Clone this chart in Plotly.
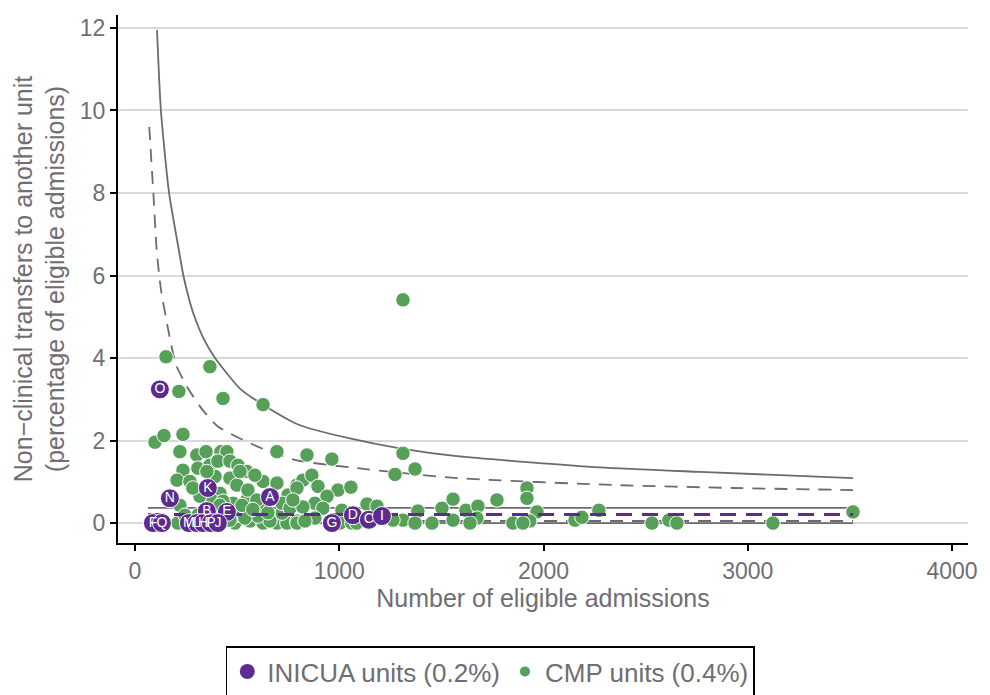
import plotly.graph_objects as go

# INICUA units (labelled)
inicua_labels = ["O", "N", "K", "A", "B", "E", "F", "Q", "M", "L", "H", "P", "J", "G", "D", "C", "I"]
inicua_x = [122, 171, 357, 661, 352, 450, 88, 132, 264, 303, 333, 372, 406, 964, 1067, 1145, 1209]
inicua_y = [3.24, 0.60, 0.85, 0.63, 0.29, 0.27, 0.0, 0.0, 0.0, 0.0, 0.0, 0.0, 0.0, 0.0, 0.19, 0.08, 0.17]

# CMP units
cmp_x = [1312, 152, 367, 215, 431, 627, 98, 142, 235, 220, 303, 348, 421, 450, 695, 842, 964, 1312, 1273, 1371,
         235, 308, 367, 406, 465, 504, 548, 465, 392, 206, 627, 587, 318, 416, 548, 480, 220, 749, 793,
         489, 563, 627, 695, 744, 793, 514, 720, 622, 210, 382, 431, 499, 553, 514, 661, 602, 538, 465, 416, 720, 759,
         822, 866, 896, 994, 1057, 793, 940, 881, 822, 773, 920, 1013, 1136, 1185, 1385, 1312, 1371, 1454, 1503, 1557,
         1557, 793, 881, 1003, 1062, 1263, 832,
         1620, 1679, 1674, 1640, 1772, 1850, 1919, 1919, 1968, 1933, 1899, 2154, 2188, 2271,
         2531, 2614, 2653, 3123, 3515,
         269, 352, 245, 524, 597, 695, 1203, 1085, 651, 577, 310, 283, 455]
cmp_y = [5.41, 4.03, 3.79, 3.19, 3.02, 2.87, 1.96, 2.12, 2.15, 1.73, 1.65, 1.73, 1.73, 1.73, 1.73, 1.65, 1.55, 1.69, 1.18, 1.31,
         1.28, 1.33, 1.40, 1.50, 1.50, 1.40, 1.25, 1.09, 1.13, 1.04, 1.01, 1.16, 0.65, 0.72, 0.56, 0.48, 0.43, 0.68, 0.92,
         0.0, 0.05, 0.0, 0.0, 0.0, 0.05, 0.19, 0.24, 0.41, 0.0, 0.53, 0.53, 0.92, 0.80, 1.25, 0.05, 0.17, 0.12, 0.07, 0.43, 0.48, 0.36,
         1.04, 1.16, 0.89, 0.80, 0.87, 0.85, 0.65, 0.48, 0.39, 0.56, 0.36, 0.31, 0.46, 0.41, 0.29, 0.07, 0.0, 0.0, 0.36, 0.58,
         0.07, 0.0, 0.12, 0.0, 0.0, 0.07, 0.05,
         0.31, 0.41, 0.12, 0.0, 0.56, 0.0, 0.85, 0.60, 0.27, 0.05, 0.0, 0.07, 0.14, 0.31,
         0.0, 0.07, 0.0, 0.0, 0.27,
         1.01, 1.25, 0.19, 0.43, 0.56, 0.97, 0.10, 0.0, 0.25, 0.33, 0.20, 0.85, 0.30]

# control limits
upper998_x = [108, 127, 167, 214, 237, 264, 286, 338, 392, 514, 627, 808, 1052, 1297, 1576, 2276, 2766, 3515]
upper998_y = [11.95, 10.0, 8.0, 6.64, 6.0, 5.45, 5.08, 4.45, 4.0, 3.26, 2.87, 2.37, 2.05, 1.81, 1.62, 1.35, 1.24, 1.09]
upper95_x = [70, 90, 106, 127, 162, 200, 260, 330, 406, 514, 646, 793, 1087, 1576, 2359, 2927, 3515]
upper95_y = [9.6, 8.0, 6.64, 5.67, 4.71, 3.85, 3.26, 2.75, 2.34, 2.05, 1.76, 1.52, 1.33, 1.09, 0.92, 0.85, 0.80]
limit_x = [64, 3515]
cmp_mean = [0.37, 0.37]
inicua_mean = [0.21, 0.21]
lower95 = [0.05, 0.05]
lower998 = [0.0, 0.0]

purple = "#5B2C8E"
green = "#57A05A"
grey = "#6B6B70"
txt = "#6E6E73"

fig = go.Figure()
line_kw = dict(mode="lines", showlegend=False, hoverinfo="skip")
fig.add_trace(go.Scatter(x=upper998_x, y=upper998_y, line=dict(color=grey, width=1.8, shape="spline", smoothing=0.6), **line_kw))
fig.add_trace(go.Scatter(x=upper95_x, y=upper95_y, line=dict(color=grey, width=1.8, dash="13px,9px", shape="spline", smoothing=0.6), **line_kw))
fig.add_trace(go.Scatter(x=limit_x, y=cmp_mean, line=dict(color=grey, width=1.8), **line_kw))
fig.add_trace(go.Scatter(x=limit_x, y=lower95, line=dict(color=grey, width=1.8, dash="13px,9px"), **line_kw))
fig.add_trace(go.Scatter(x=limit_x, y=lower998, line=dict(color=grey, width=1.8), **line_kw))

fig.add_trace(go.Scatter(x=cmp_x, y=cmp_y, mode="markers", showlegend=False,
                         marker=dict(color=green, size=14.5, line=dict(color="white", width=1))))
fig.add_trace(go.Scatter(x=limit_x, y=inicua_mean, line=dict(color=purple, width=3, dash="16px,10px"), **line_kw))
fig.add_trace(go.Scatter(x=inicua_x, y=inicua_y, mode="markers+text", text=inicua_labels, showlegend=False,
                         textposition="middle center",
                         textfont=dict(color="white", size=14, family="Liberation Sans"),
                         marker=dict(color=purple, size=19, line=dict(color="white", width=1))))

# legend entries
fig.add_trace(go.Scatter(x=[None], y=[None], mode="markers", name="INICUA units (0.2%)",
                         marker=dict(color=purple, size=15)))
fig.add_trace(go.Scatter(x=[None], y=[None], mode="markers", name="CMP units (0.4%)",
                         marker=dict(color=green, size=10)))

# page has an 8px body margin, so the margins are reduced by 8px
fig.update_layout(
    width=990, height=695,
    margin=dict(l=110, r=30, t=7, b=158),
    plot_bgcolor="white", paper_bgcolor="white",
    font=dict(family="Liberation Sans, Arial, sans-serif", size=21, color=txt),
    legend=dict(orientation="h", x=0.438, xanchor="center", y=-0.196, yanchor="top",
                bordercolor="black", borderwidth=1.5, font=dict(size=26, color=txt),
                itemwidth=30, tracegroupgap=0),
)
fig.update_xaxes(range=[-83, 4078], tickvals=[0, 1000, 2000, 3000, 4000], automargin=False,
                 showgrid=False, zeroline=False, showline=True, linecolor="black", linewidth=2,
                 ticks="outside", ticklen=6, tickwidth=1.5, tickcolor="black", tickfont=dict(size=23),
                 title=dict(text="Number of eligible admissions", standoff=6))
fig.update_yaxes(range=[-0.483, 12.314], tickvals=[0, 2, 4, 6, 8, 10, 12], automargin=False,
                 showgrid=True, gridcolor="#D9D9DD", gridwidth=1.5, zeroline=False,
                 showline=True, linecolor="black", linewidth=2,
                 ticks="outside", ticklen=6, tickwidth=1.5, tickcolor="black", tickfont=dict(size=23),
                 title=dict(text="Non\u2212clinical transfers to another unit<br>(percentage of eligible admissions)", standoff=8))

fig.write_html("out.html")
